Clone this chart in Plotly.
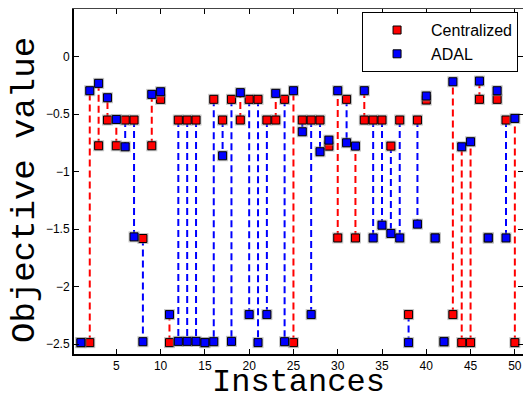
import plotly.graph_objects as go

instances = list(range(1, 51))
centralized = [-2.488, -2.488, -0.775, -0.551, -0.775, -0.551, -0.551, -1.582, -0.775, -0.371,
               -2.488, -0.551, -0.551, -0.551, -2.488, -0.371, -0.551, -0.371, -0.551, -0.371,
               -0.371, -0.551, -0.551, -0.371, -2.488, -0.551, -0.551, -0.551, -0.778, -1.577,
               -0.371, -1.577, -0.551, -0.551, -0.551, -0.778, -0.551, -2.244, -0.551, -0.377,
               -1.577, -2.480, -2.244, -2.488, -2.488, -0.371, -1.577, -0.371, -0.551, -2.488]
adal = [-2.488, -0.296, -0.232, -0.357, -0.546, -0.784, -1.568, -2.480, -0.328, -0.305,
        -2.244, -2.477, -2.477, -2.477, -2.488, -2.480, -0.862, -2.477, -0.313, -2.244,
        -2.488, -2.244, -0.319, -2.480, -0.296, -0.653, -2.244, -0.827, -0.726, -0.296,
        -0.749, -0.778, -0.296, -1.577, -1.466, -1.538, -1.577, -2.488, -1.457, -0.342,
        -1.577, -2.480, -0.218, -0.784, -0.740, -0.212, -1.577, -0.296, -1.577, -0.537]
x_ticks = [5, 10, 15, 20, 25, 30, 35, 40, 45, 50]
y_ticks = [0, -0.5, -1, -1.5, -2, -2.5]

RED = "#ff0000"
BLUE = "#0000ff"

# connecting dashed segments, coloured by the lower series
rx, ry, bx, by = [], [], [], []
for i, c, a in zip(instances, centralized, adal):
    if c < a:
        rx += [i, i, None]; ry += [c, a, None]
    elif a < c:
        bx += [i, i, None]; by += [c, a, None]

fig = go.Figure()
fig.add_trace(go.Scatter(x=rx, y=ry, mode="lines", showlegend=False, hoverinfo="skip",
                         line=dict(color=RED, width=2, dash="7px,4px")))
fig.add_trace(go.Scatter(x=bx, y=by, mode="lines", showlegend=False, hoverinfo="skip",
                         line=dict(color=BLUE, width=2, dash="7px,4px")))

halo = dict(symbol="square", size=11, color="rgba(150,150,150,0.55)", line=dict(width=0))
fig.add_trace(go.Scatter(x=instances, y=centralized, mode="markers", marker=halo,
                         showlegend=False, hoverinfo="skip"))
fig.add_trace(go.Scatter(x=instances, y=centralized, mode="markers", name="Centralized",
                         marker=dict(symbol="square", size=8, color=RED,
                                     line=dict(color="black", width=1))))
fig.add_trace(go.Scatter(x=instances, y=adal, mode="markers", marker=halo,
                         showlegend=False, hoverinfo="skip"))
fig.add_trace(go.Scatter(x=instances, y=adal, mode="markers", name="ADAL",
                         marker=dict(symbol="square", size=8, color=BLUE,
                                     line=dict(color="black", width=1))))

tickfont = dict(family="Liberation Sans, Arial, sans-serif", size=12, color="black")
mono = "Courier New, Liberation Mono, monospace"

# plot area in pixels: left 74, right 523, top 9, bottom 354
fig.update_layout(
    width=523, height=403,
    margin=dict(l=74, r=0, t=9, b=49),
    paper_bgcolor="white", plot_bgcolor="white",
    showlegend=True,
    legend=dict(x=0.989, y=0.991, xanchor="right", yanchor="top",
                bgcolor="white", bordercolor="black", borderwidth=1,
                font=dict(family="Liberation Sans, Arial, sans-serif", size=16, color="black"),
                itemwidth=58),
    xaxis=dict(range=[0.22, 50.92], tickvals=x_ticks, ticks="inside", ticklen=5,
               tickcolor="black", tickwidth=1, showline=True, linecolor="black", linewidth=2,
               showgrid=False, zeroline=False, tickfont=tickfont, automargin=False),
    xaxis2=dict(overlaying="x", side="top", matches="x", range=[0.22, 50.92],
                tickvals=x_ticks, ticks="inside", ticklen=5, tickcolor="black",
                showticklabels=False, showline=True, linecolor="#444", linewidth=1,
                showgrid=False, zeroline=False),
    yaxis=dict(range=[-2.587, 0.415], tickvals=y_ticks, ticks="inside", ticklen=5,
               tickcolor="black", tickwidth=1, showline=True, linecolor="black", linewidth=2,
               showgrid=False, zeroline=False, tickfont=tickfont, automargin=False),
    yaxis2=dict(overlaying="y", side="right", matches="y", range=[-2.587, 0.415],
                tickvals=y_ticks, ticks="inside", ticklen=5, tickcolor="black",
                showticklabels=False, showline=False, showgrid=False, zeroline=False),
    annotations=[
        dict(text="Objective value", textangle=-90,
             font=dict(family=mono, size=34, color="black"),
             xref="paper", yref="paper", x=(25 - 74) / 449, y=(354 - 190) / 345,
             xanchor="center", yanchor="middle", showarrow=False),
        dict(text="Instances", font=dict(family=mono, size=32, color="black"),
             xref="paper", yref="paper", x=0.5, y=(354 - 403) / 345,
             xanchor="center", yanchor="bottom", showarrow=False),
    ],
)
# dummy trace to activate the mirrored axes
fig.add_trace(go.Scatter(x=[None], y=[None], xaxis="x2", yaxis="y2", showlegend=False,
                         hoverinfo="skip"))

fig.write_html("out.html")
